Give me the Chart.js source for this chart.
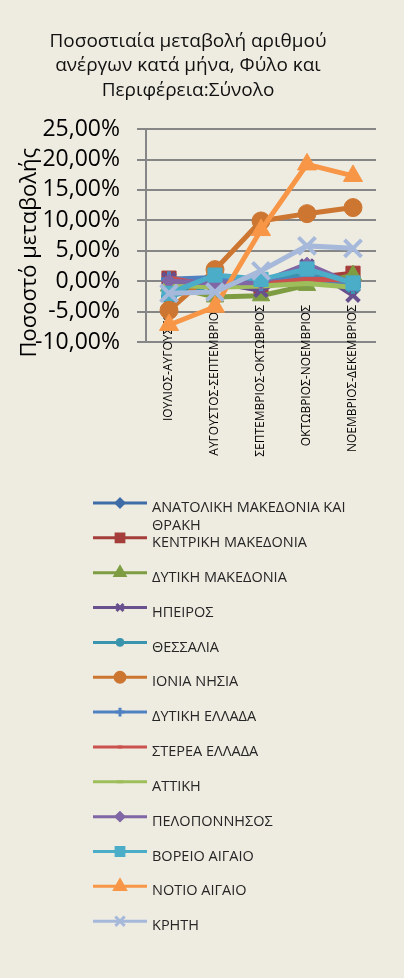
<!DOCTYPE html>
<html>
<head>
<meta charset="utf-8">
<script src="https://cdn.jsdelivr.net/npm/chart.js@4/dist/chart.umd.min.js"></script>
<style>
  html, body { margin: 0; padding: 0; background: #EEECE1; }
  #wrap { width: 404px; height: 978px; position: relative; }
</style>
</head>
<body>
<div id="wrap"><canvas id="chart" width="404" height="978"></canvas></div>
<script>
// periods (x categories)
const periods = [
    'ΙΟΥΛΙΟΣ-ΑΥΓΟΥΣΤΟΣ',
    'ΑΥΓΟΥΣΤΟΣ-ΣΕΠΤΕΜΒΡΙΟΣ',
    'ΣΕΠΤΕΜΒΡΙΟΣ-ΟΚΤΩΒΡΙΟΣ',
    'ΟΚΤΩΒΡΙΟΣ-ΝΟΕΜΒΡΙΟΣ',
    'ΝΟΕΜΒΡΙΟΣ-ΔΕΚΕΜΒΡΙΟΣ'
];

// % change per region
const anatolikiMakedonia = [0.2, 0.5, -0.5, 0.3, -0.5];
const kentrikiMakedonia  = [0.5, -0.3, -1.0, 0.5, 1.3];
const dytikiMakedonia    = [-0.8, -2.6, -2.4, -0.7, 1.0];
const ipeiros            = [0.3, -0.2, -1.5, 2.5, -2.3];
const thessalia          = [-2.5, -0.5, 0.0, 1.0, -0.8];
const ioniaNisia         = [-4.8, 1.9, 9.9, 11.1, 12.1];
const dytikiEllada       = [0.3, 0.6, -0.3, 0.5, -0.4];
const stereaEllada       = [0.5, -0.8, -0.5, 0.3, 0.2];
const attiki             = [-0.6, -1.0, -0.8, -0.4, -1.0];
const peloponnisos       = [0.0, -0.3, -0.2, 2.8, -0.5];
const voreioAigaio       = [-2.0, 1.0, 0.3, 2.0, -0.3];
const notioAigaio        = [-7.2, -4.2, 8.4, 19.2, 17.3];
const kriti              = [-2.0, -1.8, 1.7, 5.8, 5.4];

const regionNames = [
    'ΑΝΑΤΟΛΙΚΗ ΜΑΚΕΔΟΝΙΑ ΚΑΙ ΘΡΑΚΗ', 'ΚΕΝΤΡΙΚΗ ΜΑΚΕΔΟΝΙΑ', 'ΔΥΤΙΚΗ ΜΑΚΕΔΟΝΙΑ',
    'ΗΠΕΙΡΟΣ', 'ΘΕΣΣΑΛΙΑ', 'ΙΟΝΙΑ ΝΗΣΙΑ', 'ΔΥΤΙΚΗ ΕΛΛΑΔΑ', 'ΣΤΕΡΕΑ ΕΛΛΑΔΑ',
    'ΑΤΤΙΚΗ', 'ΠΕΛΟΠΟΝΝΗΣΟΣ', 'ΒΟΡΕΙΟ ΑΙΓΑΙΟ', 'ΝΟΤΙΟ ΑΙΓΑΙΟ', 'ΚΡΗΤΗ'
];
const regionValues = [
    anatolikiMakedonia, kentrikiMakedonia, dytikiMakedonia, ipeiros, thessalia,
    ioniaNisia, dytikiEllada, stereaEllada, attiki, peloponnisos,
    voreioAigaio, notioAigaio, kriti
];

const yTicks = { min: -10, max: 25, step: 5 };

// styles
const colors = ['#3E6CA6', '#A53E3B', '#7E9D43', '#684F8D', '#3A94AD', '#CC7631',
                '#4F81C2', '#C9524F', '#9DBE5B', '#8166A5', '#4BADC8', '#F79646', '#A6B9DB'];
const markers = ['rectRot', 'rect', 'triangle', 'crossRot', 'star', 'circle',
                 'cross', 'line', 'line', 'rectRot', 'rect', 'triangle', 'crossRot'];
const markerSize = [7, 10, 10, 9, 8, 9, 8, 4, 6, 7, 10, 11, 12];
const FONT = "'Open Sans', 'Noto Sans', sans-serif";

const datasets = regionNames.map((name, i) => ({
    label: name,
    data: regionValues[i],
    borderColor: colors[i],
    backgroundColor: colors[i],
    pointBackgroundColor: colors[i],
    pointBorderColor: colors[i],
    borderWidth: 5,
    pointStyle: markers[i],
    pointRadius: markerSize[i],
    pointBorderWidth: (markers[i].indexOf('cross') === 0 || markers[i] === 'star' || markers[i] === 'line') ? 4 : 1,
    order: regionNames.length - i,
    tension: 0
}));

const pct = v => v.toFixed(2).replace('.', ',') + '%';

function drawMarker(ctx, style, r, bw, x, y) {
    if (Chart.helpers && Chart.helpers.drawPoint) {
        Chart.helpers.drawPoint(ctx, { pointStyle: style, radius: r, borderWidth: bw, rotation: 0 }, x, y);
    }
}

const sideLegend = {
    id: 'sideLegend',
    afterDraw(chart) {
        const ctx = chart.ctx;
        const top = 503, step = 34.85;
        ctx.save();
        ctx.font = '14.5px ' + FONT;
        ctx.textBaseline = 'middle';
        ctx.textAlign = 'left';
        chart.data.datasets.forEach((ds, i) => {
            const y = top + i * step;
            ctx.strokeStyle = ds.borderColor;
            ctx.fillStyle = ds.borderColor;
            ctx.lineWidth = 3;
            ctx.beginPath();
            ctx.moveTo(93, y);
            ctx.lineTo(147, y);
            ctx.stroke();
            const isStroke = ds.pointBorderWidth > 1;
            drawMarker(ctx, ds.pointStyle, ds.pointRadius * 0.55, isStroke ? 3 : 1, 120, y);

            // wrap long labels
            ctx.fillStyle = '#262626';
            const words = ds.label.split(' ');
            let line = '', ly = y + 5;
            words.forEach(w => {
                const test = line ? line + ' ' + w : w;
                if (ctx.measureText(test).width > 220 && line) {
                    ctx.fillText(line, 152, ly);
                    line = w;
                    ly += 18;
                } else {
                    line = test;
                }
            });
            ctx.fillText(line, 152, ly);
        });
        ctx.restore();
    }
};

new Chart(document.getElementById('chart'), {
    type: 'line',
    data: { labels: periods, datasets: datasets },
    plugins: [sideLegend],
    options: {
        responsive: false,
        animation: false,
        layout: { padding: { left: 0, right: 28, top: 0, bottom: 496 } },
        plugins: {
            legend: { display: false },
            tooltip: { enabled: false },
            title: {
                display: true,
                text: ['Ποσοστιαία μεταβολή αριθμού', 'ανέργων κατά μήνα, Φύλο και', 'Περιφέρεια:Σύνολο'],
                color: '#111',
                font: { family: FONT, size: 19, weight: 'normal', lineHeight: 1.3 },
                padding: { top: 29, bottom: 26 }
            }
        },
        scales: {
            x: {
                offset: true,
                grid: { display: false, drawTicks: false },
                border: { display: false },
                afterFit: s => {
                    s.height = 140;
                    // labels sit partly over the plot, so don't clip them to the axis box
                    s._computeLabelArea = () => undefined;
                },
                ticks: {
                    autoSkip: false,
                    minRotation: 90,
                    maxRotation: 90,
                    padding: -37,
                    color: '#000',
                    font: { family: FONT, size: 12 }
                }
            },
            y: {
                min: yTicks.min,
                max: yTicks.max,
                afterFit: s => { s.width = 146; },
                ticks: {
                    stepSize: yTicks.step,
                    autoSkip: false,
                    color: '#000',
                    padding: 17,
                    font: { family: FONT, size: 23 },
                    callback: v => pct(v)
                },
                grid: { color: '#868686', lineWidth: 2, tickLength: 9 },
                border: { color: '#868686', width: 2 },
                title: {
                    display: true,
                    text: 'Ποσοστό μεταβολής' + '\u00a0'.repeat(6),
                    color: '#000',
                    font: { family: FONT, size: 22 },
                    padding: { top: 17, bottom: 0 }
                }
            }
        }
    }
});
</script>
</body>
</html>
